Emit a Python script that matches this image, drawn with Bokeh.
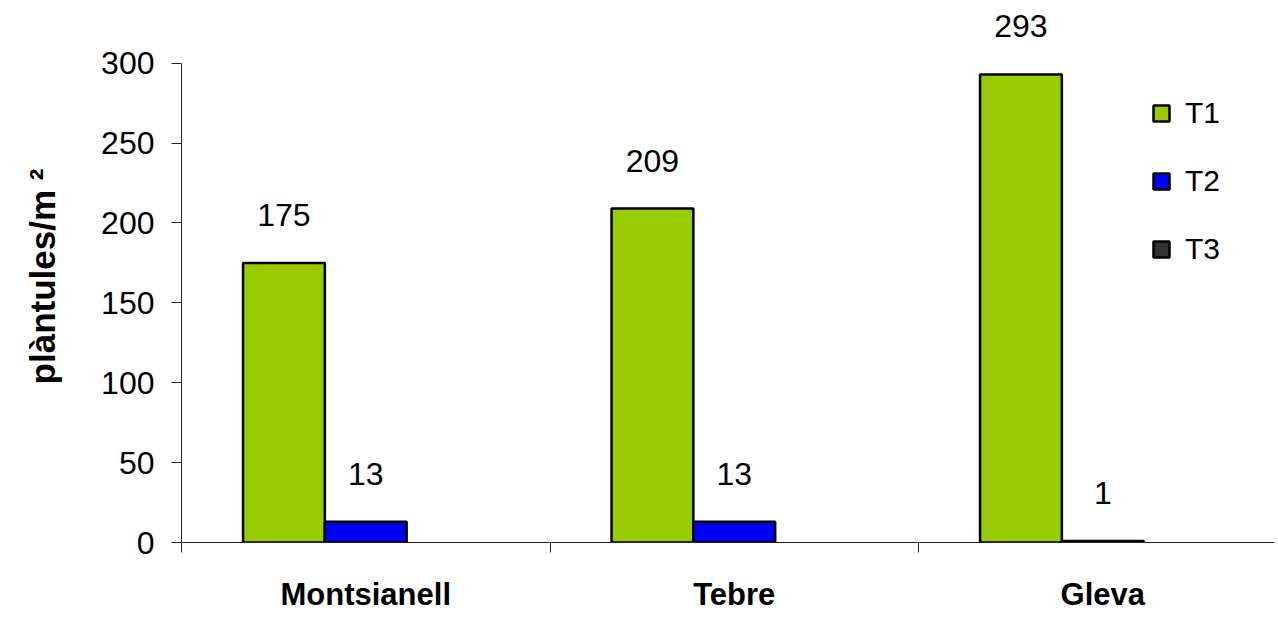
from bokeh.plotting import figure
from bokeh.models import Range1d, FixedTicker, ColumnDataSource, LabelSet
from bokeh.core.properties import value
from bokeh.embed import file_html
from bokeh.resources import INLINE

# ---- data ----
categories = ["Montsianell", "Tebre", "Gleva"]
series = ["T1", "T2", "T3"]
t1 = [175, 209, 293]
t2 = [13, 13, 1]
t3 = [float("nan"), float("nan"), float("nan")]
y_ticks = [0, 50, 100, 150, 200, 250, 300]

colors = ["#99CC00", "#0000FF", "#333333"]
FONT = "Liberation Sans"

p = figure(width=1276, height=614,
           x_range=Range1d(0, 2.966), y_range=Range1d(0, 333),
           output_backend="svg", toolbar_location=None,
           min_border_left=181, min_border_right=2,
           min_border_top=10, min_border_bottom=60)
p.outline_line_color = None
p.grid.visible = False
p.background_fill_color = "white"
p.border_fill_color = "white"

bar_w = 0.222
offsets = [-0.222, 0.0, 0.222]
all_vals = [t1, t2, t3]

label_x, label_y, label_t = [], [], []
for s, vals, off, col in zip(series, all_vals, offsets, colors):
    xs = [i + 0.5 + off for i in range(len(categories))]
    src = ColumnDataSource(dict(x=xs, top=vals))
    p.vbar(x="x", top="top", bottom=0, width=bar_w, source=src,
           fill_color=col, line_color="black", line_width=2.5,
           legend_label=s)
    for x, v in zip(xs, vals):
        if v == v:  # not NaN
            label_x.append(x)
            label_y.append(v)
            label_t.append(str(v))

lbl_src = ColumnDataSource(dict(x=label_x, y=label_y, t=label_t))
labels = LabelSet(x="x", y="y", text="t", source=lbl_src,
                  text_align="center", text_baseline="middle", y_offset=48,
                  text_font=value(FONT), text_font_size="32px", text_color="black")
p.add_layout(labels)

# y axis
p.yaxis.ticker = FixedTicker(ticks=y_ticks)
p.yaxis.bounds = (0, 300)
p.yaxis.major_tick_out = 10
p.yaxis.major_tick_in = 0
p.yaxis.minor_tick_out = 0
p.yaxis.minor_tick_in = 0
p.yaxis.major_label_standoff = 17
p.yaxis.major_label_text_font = FONT
p.yaxis.major_label_text_font_size = "32px"
p.yaxis.major_label_text_color = "black"
p.yaxis.axis_line_color = "#222222"
p.yaxis.major_tick_line_color = "#222222"
p.yaxis.axis_label = "plàntules/m ²"
p.yaxis.axis_label_text_font = FONT
p.yaxis.axis_label_text_font_size = "35px"
p.yaxis.axis_label_text_font_style = "bold"
p.yaxis.axis_label_text_color = "black"
p.yaxis.axis_label_standoff = 36

# x axis: labels at centres, ticks at boundaries
p.xaxis.ticker = FixedTicker(ticks=[i + 0.5 for i in range(len(categories))],
                             minor_ticks=list(range(len(categories) + 1)))
p.xaxis.major_label_overrides = {i + 0.5: c for i, c in enumerate(categories)}
p.xaxis.major_tick_out = 0
p.xaxis.major_tick_in = 0
p.xaxis.minor_tick_out = 10
p.xaxis.minor_tick_in = 0
p.xaxis.major_label_standoff = 24
p.xaxis.major_label_text_font = FONT
p.xaxis.major_label_text_font_size = "31px"
p.xaxis.major_label_text_font_style = "bold"
p.xaxis.major_label_text_color = "black"
p.xaxis.axis_line_color = "#222222"
p.xaxis.minor_tick_line_color = "#222222"

# legend
leg = p.legend[0]
leg.location = (970, 276)
leg.border_line_color = None
leg.background_fill_alpha = 0
leg.padding = 0
leg.margin = 0
leg.glyph_width = 20
leg.glyph_height = 20
leg.label_height = 20
leg.spacing = 34
leg.label_standoff = 14
leg.label_text_font = FONT
leg.label_text_font_size = "30px"
leg.label_text_color = "black"

open("out.html", "w").write(file_html(p, INLINE))
